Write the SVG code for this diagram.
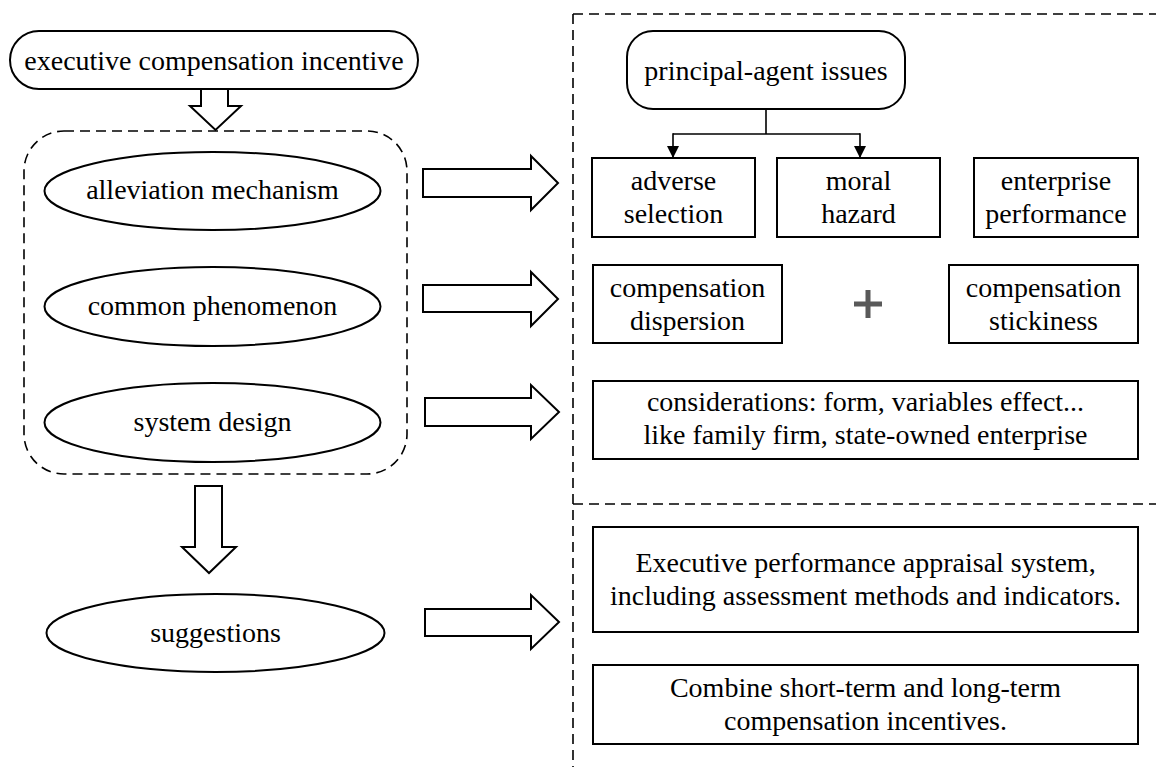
<svg xmlns="http://www.w3.org/2000/svg" width="1156" height="767" viewBox="0 0 1156 767">
<style>
.sh{fill:#fff;stroke:#000;stroke-width:2}
.dash{fill:none;stroke:#000;stroke-width:1.6;stroke-dasharray:10 6}
.t{font-family:"Liberation Serif","Times New Roman",serif;font-size:28px;fill:#000;text-anchor:middle}
.ln{fill:none;stroke:#000;stroke-width:1.6}
.big{fill:#fff;stroke:#000;stroke-width:2;stroke-linejoin:miter}
</style>
<defs>
<marker id="ah" markerWidth="12" markerHeight="12" refX="12" refY="6" orient="auto" markerUnits="userSpaceOnUse">
<path d="M0,0 L12,6 L0,12 Z" fill="#000"/>
</marker>
</defs>
<rect width="1156" height="767" fill="#fff"/>

<g id="regions">
<rect class="dash" x="24" y="131" width="383" height="343" rx="40" ry="40"/>
<path class="dash" d="M573,14 H1160 M573,14 V767 M573,504 H1160"/>
</g>

<g id="connectors">
<path class="big" d="M201,89 V106 H190 L215.5,130 L241,106 H228 V89"/>
<path class="big" d="M195,486 V547 H182 L209,573 L236,547 H222 V486 Z"/>
<path class="big" d="M423,169 H531 V156 L558,183 L531,210 V197 H423 Z"/>
<path class="big" d="M423,285 H531 V272 L558,299 L531,326 V312 H423 Z"/>
<path class="big" d="M425,398 H531 V385 L559,412 L531,439 V426 H425 Z"/>
<path class="big" d="M425,609 H531 V595 L559,622 L531,649 V636 H425 Z"/>
<path class="ln" d="M766,109 V134 M673,134 H860"/>
<path class="ln" d="M673,133.2 V158" marker-end="url(#ah)"/>
<path class="ln" d="M860,133.2 V158" marker-end="url(#ah)"/>
</g>

<g id="n-exec">
<rect class="sh" x="10" y="31" width="408" height="58" rx="29" ry="29"/>
<text class="t" x="214" y="70">executive compensation incentive</text>
</g>
<g id="n-alleviation">
<ellipse class="sh" cx="212.5" cy="191" rx="168" ry="39"/>
<text class="t" x="212.5" y="199">alleviation mechanism</text>
</g>
<g id="n-common">
<ellipse class="sh" cx="212.5" cy="306.5" rx="168" ry="39.5"/>
<text class="t" x="212.5" y="314.5">common phenomenon</text>
</g>
<g id="n-system">
<ellipse class="sh" cx="212.5" cy="422.5" rx="168" ry="39.5"/>
<text class="t" x="212.5" y="430.5">system design</text>
</g>
<g id="n-suggestions">
<ellipse class="sh" cx="215.5" cy="633" rx="169" ry="39"/>
<text class="t" x="215.5" y="641.5">suggestions</text>
</g>

<g id="n-principal">
<rect class="sh" x="627" y="31" width="278" height="78" rx="26" ry="26"/>
<text class="t" x="766" y="80">principal-agent issues</text>
</g>
<g id="n-adverse">
<rect class="sh" x="592" y="158" width="163" height="79"/>
<text class="t" x="673.5" y="190">adverse</text>
<text class="t" x="673.5" y="223">selection</text>
</g>
<g id="n-moral">
<rect class="sh" x="777" y="158" width="163" height="79"/>
<text class="t" x="858.5" y="190">moral</text>
<text class="t" x="858.5" y="223">hazard</text>
</g>
<g id="n-enterprise">
<rect class="sh" x="974" y="158" width="164" height="79"/>
<text class="t" x="1056" y="190">enterprise</text>
<text class="t" x="1056" y="223">performance</text>
</g>
<g id="n-dispersion">
<rect class="sh" x="593" y="265" width="189" height="78"/>
<text class="t" x="687.5" y="297">compensation</text>
<text class="t" x="687.5" y="330">dispersion</text>
</g>
<g id="n-plus">
<path d="M854,304 H882 M868,290 V318" stroke="#595959" stroke-width="5" fill="none"/>
</g>
<g id="n-stickiness">
<rect class="sh" x="949" y="265" width="189" height="78"/>
<text class="t" x="1043.5" y="297">compensation</text>
<text class="t" x="1043.5" y="330">stickiness</text>
</g>
<g id="n-considerations">
<rect class="sh" x="593" y="381" width="545" height="78"/>
<text class="t" x="865.5" y="411">considerations: form, variables effect...</text>
<text class="t" x="865.5" y="444">like family firm, state-owned enterprise</text>
</g>
<g id="n-appraisal">
<rect class="sh" x="593" y="527" width="545" height="105"/>
<text class="t" x="865.5" y="572">Executive performance appraisal system,</text>
<text class="t" x="865.5" y="605">including assessment methods and indicators.</text>
</g>
<g id="n-combine">
<rect class="sh" x="593" y="665" width="545" height="79"/>
<text class="t" x="865.5" y="697">Combine short-term and long-term</text>
<text class="t" x="865.5" y="730">compensation incentives.</text>
</g>
</svg>
